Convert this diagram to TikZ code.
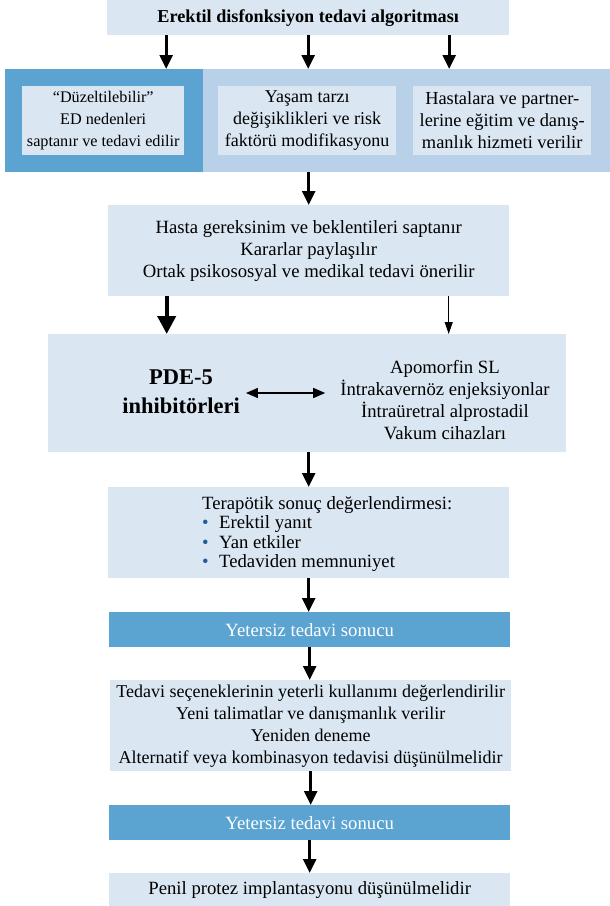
\documentclass[tikz,border=0pt]{standalone}
\usepackage{fontspec}
\setmainfont{Liberation Serif}
\usetikzlibrary{arrows.meta,positioning,calc}
\definecolor{boxfill}{HTML}{DAE6F2}
\definecolor{bandlight}{HTML}{B9D1E8}
\definecolor{banddark}{HTML}{5BA3D1}
\definecolor{dotblue}{HTML}{1F5C99}
\newcommand{\bodytext}{\fontsize{18.7}{22}\selectfont}

\begin{document}
\begin{tikzpicture}[x=1pt,y=-1pt,
  panel/.style={fill=#1,inner sep=0pt,anchor=north west,align=center,font=\bodytext},
  panel/.default=boxfill,
  flow/.style={-{Triangle[width=13pt,length=14pt]},line width=2.6pt},
]
  \useasboundingbox (0,0) rectangle (610,906);

  % header and the three first steps
  \node[panel,minimum width=402pt,minimum height=35pt,font=\fontsize{18.2}{22}\selectfont\bfseries] (title) at (107,0) {Erektil disfonksiyon tedavi algoritması};
  \node[panel=banddark,minimum width=198pt,minimum height=103pt] (bandL) at (5,69) {};
  \node[panel=bandlight,minimum width=407pt,minimum height=103pt] (bandR) at (203,69) {};
  \node[panel,minimum width=162pt,minimum height=69pt,font=\fontsize{16.2}{22}\selectfont] (cause) at (22,86) {“Düzeltilebilir”\\ED nedenleri\\saptanır ve tedavi edilir};
  \node[panel,minimum width=178pt,minimum height=69pt,font=\fontsize{18}{22}\selectfont] (life) at (218,86) {Yaşam tarzı\\değişiklikleri ve risk\\faktörü modifikasyonu};
  \node[panel,minimum width=178pt,minimum height=69pt,font=\fontsize{18.4}{22}\selectfont] (edu) at (413,86) {Hastalara ve partner-\\lerine eğitim ve danış-\\manlık hizmeti verilir};

  % shared decision
  \node[panel,minimum width=401pt,minimum height=91pt] (need) at (108,205) {Hasta gereksinim ve beklentileri saptanır\\Kararlar paylaşılır\\Ortak psikososyal ve medikal tedavi önerilir};

  % treatment options
  \node[panel,minimum width=518pt,minimum height=118pt] (treat) at (48,334) {};
  \node[font=\fontsize{22.5}{29}\selectfont\bfseries,align=center,inner sep=2pt] (pde) at (181,392) {PDE-5\\inhibitörleri};
  \node[font=\bodytext,align=center,inner sep=2pt] (other) at (445,400) {Apomorfin SL\\İntrakavernöz enjeksiyonlar\\İntraüretral alprostadil\\Vakum cihazları};

  % outcome
  \node[panel,minimum width=401pt,minimum height=91pt] (eval) at (108,487) {};
  \node[font=\fontsize{18.7}{19.5}\selectfont,align=left,anchor=west,inner sep=0pt] (evaltxt) at (202,534) {Terapötik sonuç değerlendirmesi:\\
    \makebox[17pt][l]{\textcolor{dotblue}{\textbullet}}Erektil yanıt\\
    \makebox[17pt][l]{\textcolor{dotblue}{\textbullet}}Yan etkiler\\
    \makebox[17pt][l]{\textcolor{dotblue}{\textbullet}}Tedaviden memnuniyet};
  \node[panel=banddark,minimum width=401pt,minimum height=35pt,text=white] (fail1) at (109,612) {Yetersiz tedavi sonucu};
  \node[panel,minimum width=401pt,minimum height=91pt,font=\fontsize{18}{22}\selectfont] (retry) at (110,680) {Tedavi seçeneklerinin yeterli kullanımı değerlendirilir\\Yeni talimatlar ve danışmanlık verilir\\Yeniden deneme\\Alternatif veya kombinasyon tedavisi düşünülmelidir};
  \node[panel=banddark,minimum width=401pt,minimum height=35pt,text=white] (fail2) at (109,805) {Yetersiz tedavi sonucu};
  \node[panel,minimum width=401pt,minimum height=33pt] (implant) at (109,873) {Penil protez implantasyonu düşünülmelidir};

  % arrows
  \draw[flow] ([xshift=-142pt]title.south) -- ([xshift=-142pt]title.south |- bandL.north);
  \draw[flow] (title.south) -- (title.south |- bandR.north);
  \draw[flow] ([xshift=141pt]title.south) -- ([xshift=141pt]title.south |- bandR.north);
  \draw[flow] (bandR.south -| need.north) -- (need.north);
  \draw[-{Triangle[width=18pt,length=18pt]},line width=4pt] ([xshift=-142pt]need.south) -- ([xshift=-142pt]need.south |- treat.north);
  \draw[-{Triangle[width=8pt,length=12pt]},line width=1.1pt] ([xshift=140pt]need.south) -- ([xshift=140pt]need.south |- treat.north);
  \draw[{Triangle[width=10pt,length=12pt]}-{Triangle[width=10pt,length=12pt]},line width=1.4pt] ([xshift=4pt,yshift=-1pt]pde.east) -- ([xshift=-13pt,yshift=-1pt]pde.east -| other.west);
  \draw[flow] (treat.south -| eval.north) -- (eval.north);
  \draw[flow] (eval.south) -- (eval.south |- fail1.north);
  \draw[flow] (fail1.south) -- (fail1.south |- retry.north);
  \draw[flow] (retry.south) -- (retry.south |- fail2.north);
  \draw[flow] (fail2.south) -- (fail2.south |- implant.north);
\end{tikzpicture}
\end{document}
